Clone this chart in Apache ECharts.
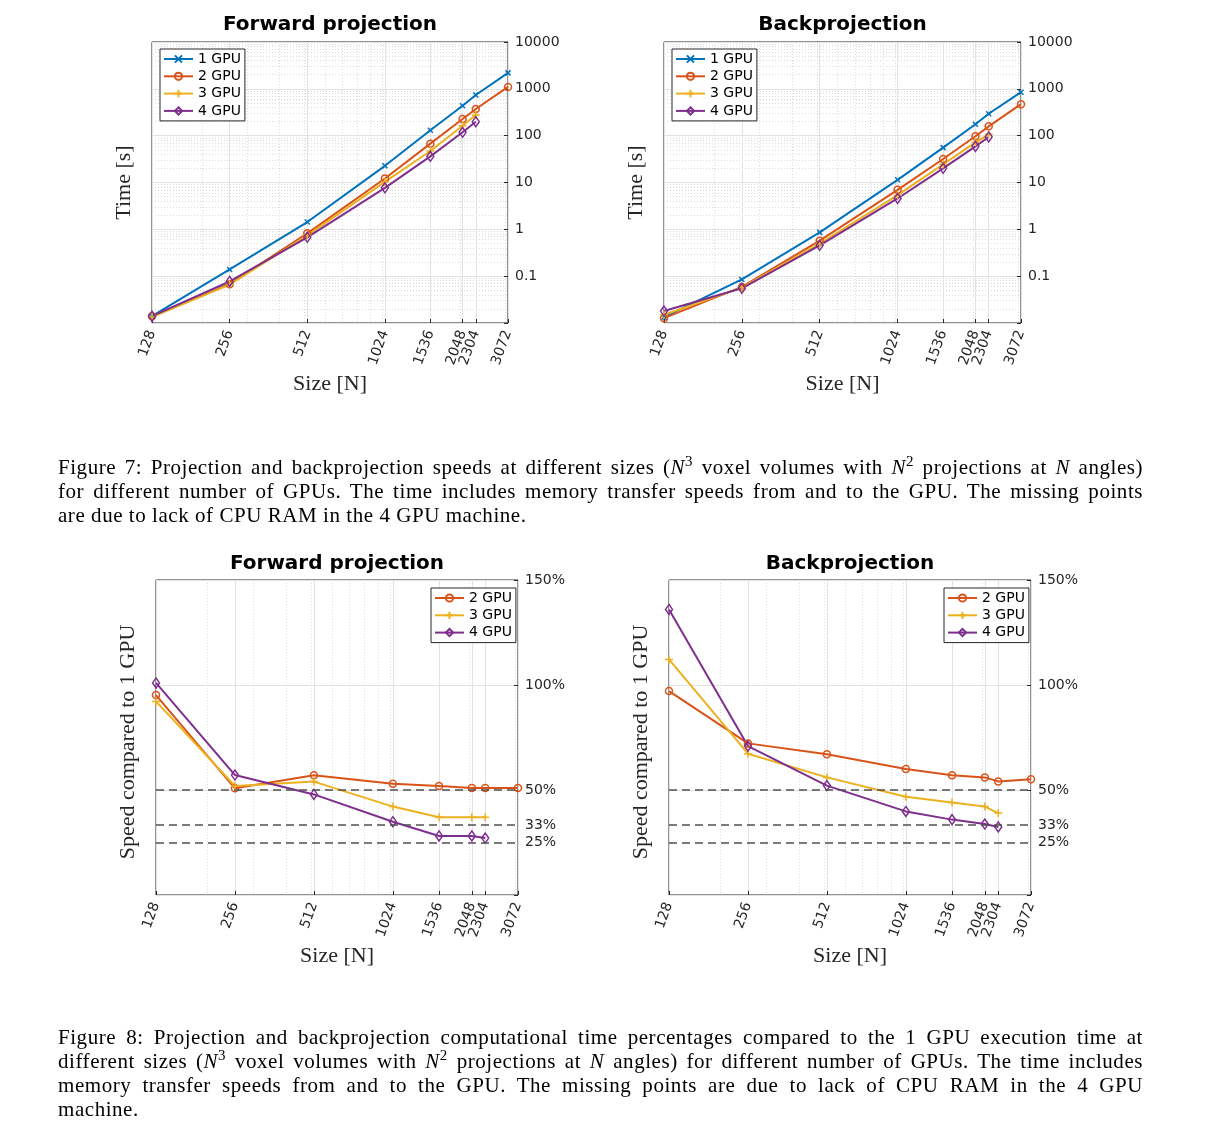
<!DOCTYPE html>
<html><head><meta charset="utf-8">
<script src="https://cdn.jsdelivr.net/npm/echarts@6/dist/echarts.min.js"></script>
<style>
html,body{margin:0;padding:0;background:#fff;}
#chart{position:absolute;left:0;top:0;width:1215px;height:1148px;}
.cap{position:absolute;left:58px;width:1085px;font-family:"Liberation Serif",serif;font-size:21px;letter-spacing:0.55px;line-height:24px;height:24px;color:#000;overflow:visible;}
.j{text-align:justify;text-align-last:justify;}
.cap sup{font-size:15px;line-height:0;vertical-align:8px;}
</style></head><body>
<div id="chart"></div>
<div class="cap j" style="top:455px">Figure 7: Projection and backprojection speeds at different sizes (<i>N</i><sup>3</sup> voxel volumes with <i>N</i><sup>2</sup> projections at <i>N</i> angles)</div>
<div class="cap j" style="top:479px">for different number of GPUs. The time includes memory transfer speeds from and to the GPU. The missing points</div>
<div class="cap" style="top:503px">are due to lack of CPU RAM in the 4 GPU machine.</div>
<div class="cap j" style="top:1025px">Figure 8: Projection and backprojection computational time percentages compared to the 1 GPU execution time at</div>
<div class="cap j" style="top:1049px">different sizes (<i>N</i><sup>3</sup> voxel volumes with <i>N</i><sup>2</sup> projections at <i>N</i> angles) for different number of GPUs. The time includes</div>
<div class="cap j" style="top:1073px">memory transfer speeds from and to the GPU. The missing points are due to lack of CPU RAM in the 4 GPU</div>
<div class="cap" style="top:1097px">machine.</div>
<script>
// ---------- data ----------
const sizes = [128, 256, 512, 1024, 1536, 2048, 2304, 3072];
const gpuNames = ['1 GPU', '2 GPU', '3 GPU', '4 GPU'];
const fwdTime1 = [0.014, 0.139, 1.43, 22.7, 130, 437, 738, 2190];
const fwdTime2 = [0.014, 0.0675, 0.82, 12.2, 67.5, 227, 371, 1100];
const fwdTime3 = [0.0134, 0.066, 0.745, 10.3, 47, 163, 276];
const fwdTime4 = [0.014, 0.077, 0.675, 7.7, 36.2, 118, 199];
const backTime1 = [0.0133, 0.085, 0.86, 11.4, 55.5, 175, 294, 849];
const backTime2 = [0.0127, 0.059, 0.573, 6.98, 31.8, 97, 158, 471];
const backTime3 = [0.015, 0.057, 0.494, 5.37, 24.4, 72, 107];
const backTime4 = [0.018, 0.055, 0.456, 4.56, 20.1, 59.1, 93.7];
const fwdSpeed2 = [95.2, 50.8, 57.0, 53.0, 51.9, 51.0, 51.0, 51.0];
const fwdSpeed3 = [92.2, 51.9, 54.0, 42.1, 37.0, 37.0, 37.0];
const fwdSpeed4 = [101.0, 57.1, 47.9, 34.9, 28.1, 28.1, 27.1];
const backSpeed2 = [97.1, 72.2, 67.0, 60.0, 57.0, 56.0, 54.1, 55.1];
const backSpeed3 = [112.2, 67.3, 56.0, 46.8, 44.0, 42.1, 39.0];
const backSpeed4 = [136.0, 70.9, 52.1, 39.8, 35.9, 33.8, 32.4];
const xMinorTicks = [200, 300, 400, 500, 600, 700, 800, 900, 1000, 2000, 3000];
const yTimeMinorTicks = [];
[0.01, 0.1, 1, 10, 100, 1000].forEach(function (d) { for (let k = 2; k <= 9; k++) yTimeMinorTicks.push(+(d * k).toPrecision(3)); });
const pctLabels = [25, 100 / 3, 50, 100, 150];
const pctTicks = [0, 50, 100, 150];
const refLines = [50, 100 / 3, 25];

// ---------- styles ----------
const COLORS = ['#0072BD', '#D95319', '#EDB120', '#7E2F8E'];
const SYMBOLS = ['path://M0,0L10,10M10,0L0,10', 'circle', 'path://M5,0L5,10M0,5L10,5', 'diamond'];
const SYMSIZE = [5, 7, 8, [7, 10]];
const SANS = '"DejaVu Sans", sans-serif';
const SERIF = '"Liberation Serif", serif';
const AXC = '#262626';

const grids = [
  { left: 152, top: 42, width: 356, height: 281 },
  { left: 664, top: 42, width: 357, height: 281 },
  { left: 156, top: 580, width: 362, height: 315 },
  { left: 669, top: 580, width: 362, height: 315 }
].map(function (g) { return Object.assign({ show: true, borderColor: AXC, borderWidth: 1, backgroundColor: 'rgba(0,0,0,0)', containLabel: false }, g); });

const xAxes = [], yAxes = [];
for (let i = 0; i < 4; i++) {
  xAxes.push({
    type: 'log', logBase: 2, min: 128, max: 3072, gridIndex: i, position: 'bottom',
    axisLine: { show: false },
    axisTick: { show: true, inside: true, length: 4, customValues: sizes, lineStyle: { color: AXC } },
    axisLabel: { customValues: sizes, rotate: 70, margin: 8, fontSize: 14, fontFamily: SANS, color: AXC,
      formatter: function (v) { return String(Math.round(v)); } },
    splitLine: { show: true, lineStyle: { color: '#e3e3e3', width: 1 } }
  });
  xAxes.push({
    type: 'log', logBase: 2, min: 128, max: 3072, gridIndex: i, position: 'bottom',
    axisLine: { show: false },
    axisTick: { show: false, customValues: xMinorTicks },
    axisLabel: { show: false },
    splitLine: { show: true, lineStyle: { color: '#dcdcdc', width: 1, type: [1, 2] } }
  });
  if (i < 2) {
    yAxes.push({
      type: 'log', logBase: 10, min: 0.01, max: 10000, gridIndex: i, position: 'right',
      axisLine: { show: false },
      axisTick: { show: true, inside: true, length: 4, lineStyle: { color: AXC } },
      axisLabel: { margin: 7, fontSize: 14, fontFamily: SANS, color: AXC,
        formatter: function (v) { return v < 0.05 ? '' : (v < 1 ? v.toFixed(1) : String(Math.round(v))); } },
      splitLine: { show: true, lineStyle: { color: '#e3e3e3', width: 1 } }
    });
    yAxes.push({
      type: 'log', logBase: 10, min: 0.01, max: 10000, gridIndex: i, position: 'right',
      axisLine: { show: false },
      axisTick: { show: false, customValues: yTimeMinorTicks },
      axisLabel: { show: false },
      splitLine: { show: true, lineStyle: { color: '#dcdcdc', width: 1, type: [1, 2] } }
    });
  } else {
    yAxes.push({
      type: 'value', min: 0, max: 150, interval: 50, gridIndex: i, position: 'right',
      axisLine: { show: false },
      axisTick: { show: true, inside: true, length: 4, customValues: pctTicks, lineStyle: { color: AXC } },
      axisLabel: { customValues: pctLabels, margin: 7, fontSize: 14, fontFamily: SANS, color: AXC,
        formatter: function (v) { return Math.round(v) + '%'; } },
      splitLine: { show: true, lineStyle: { color: '#e3e3e3', width: 1 } }
    });
    yAxes.push({
      type: 'value', min: 0, max: 150, interval: 50, gridIndex: i, position: 'right', show: false
    });
  }
}

function lineSeries(gi, chartIdx, values, extra) {
  const s = {
    type: 'line', name: gpuNames[gi], xAxisIndex: chartIdx * 2, yAxisIndex: chartIdx * 2,
    data: values.map(function (v, i) { return [sizes[i], v]; }),
    symbol: SYMBOLS[gi], symbolSize: SYMSIZE[gi], showAllSymbol: true,
    lineStyle: { color: COLORS[gi], width: 2 },
    itemStyle: { color: 'rgba(255,255,255,0)', borderColor: COLORS[gi], borderWidth: 1.5 },
    emphasis: { disabled: true }, silent: true, z: 3
  };
  return Object.assign(s, extra || {});
}

const dashMark = {
  markLine: {
    silent: true, symbol: 'none', label: { show: false },
    lineStyle: { color: '#505050', width: 1.5, type: [8, 5] },
    data: refLines.map(function (v) { return { yAxis: v }; })
  }
};

const series = [
  lineSeries(0, 0, fwdTime1), lineSeries(1, 0, fwdTime2), lineSeries(2, 0, fwdTime3), lineSeries(3, 0, fwdTime4),
  lineSeries(0, 1, backTime1), lineSeries(1, 1, backTime2), lineSeries(2, 1, backTime3), lineSeries(3, 1, backTime4),
  lineSeries(1, 2, fwdSpeed2, dashMark), lineSeries(2, 2, fwdSpeed3), lineSeries(3, 2, fwdSpeed4),
  lineSeries(1, 3, backSpeed2, dashMark), lineSeries(2, 3, backSpeed3), lineSeries(3, 3, backSpeed4)
];

function legend(left, top, names) {
  return {
    left: left, top: top, orient: 'vertical', data: names,
    backgroundColor: '#fff', borderColor: AXC, borderWidth: 1, borderRadius: 0,
    padding: [3, 4, 3, 3], itemGap: 3.3, itemWidth: 29, itemHeight: 9,
    textStyle: { fontSize: 14, fontFamily: SANS, color: '#000', lineHeight: 14 },
    selectedMode: false
  };
}

function txt(x, y, text, family, size, weight, rot, color) {
  return { type: 'text', x: x, y: y, rotation: rot || 0, silent: true, z: 10,
    style: { text: text, fontFamily: family, fontSize: size, fontWeight: weight || 'normal', fill: color || '#000', align: 'center', verticalAlign: 'middle' } };
}

const option = {
  animation: false,
  backgroundColor: '#fff',
  grid: grids,
  xAxis: xAxes,
  yAxis: yAxes,
  legend: [
    legend(160, 49, gpuNames),
    legend(672, 49, gpuNames),
    legend(431, 588, gpuNames.slice(1)),
    legend(944, 588, gpuNames.slice(1))
  ],
  graphic: [
    txt(330, 25, 'Forward projection', SANS, 20, 'bold'),
    txt(842.5, 25, 'Backprojection', SANS, 20, 'bold'),
    txt(337, 563.5, 'Forward projection', SANS, 20, 'bold'),
    txt(850, 563.5, 'Backprojection', SANS, 20, 'bold'),
    txt(124, 182.5, 'Time [s]', SERIF, 22, 'normal', Math.PI / 2, AXC),
    txt(636, 182.5, 'Time [s]', SERIF, 22, 'normal', Math.PI / 2, AXC),
    txt(330, 384, 'Size [N]', SERIF, 22, 'normal', 0, AXC),
    txt(842.5, 384, 'Size [N]', SERIF, 22, 'normal', 0, AXC),
    txt(128, 742, 'Speed compared to 1 GPU', SERIF, 22, 'normal', Math.PI / 2, AXC),
    txt(641, 742, 'Speed compared to 1 GPU', SERIF, 22, 'normal', Math.PI / 2, AXC),
    txt(337, 956, 'Size [N]', SERIF, 22, 'normal', 0, AXC),
    txt(850, 956, 'Size [N]', SERIF, 22, 'normal', 0, AXC)
  ],
  series: series
};

const chart = echarts.init(document.getElementById('chart'), null, { renderer: 'canvas' });
chart.setOption(option);
</script>
</body></html>
